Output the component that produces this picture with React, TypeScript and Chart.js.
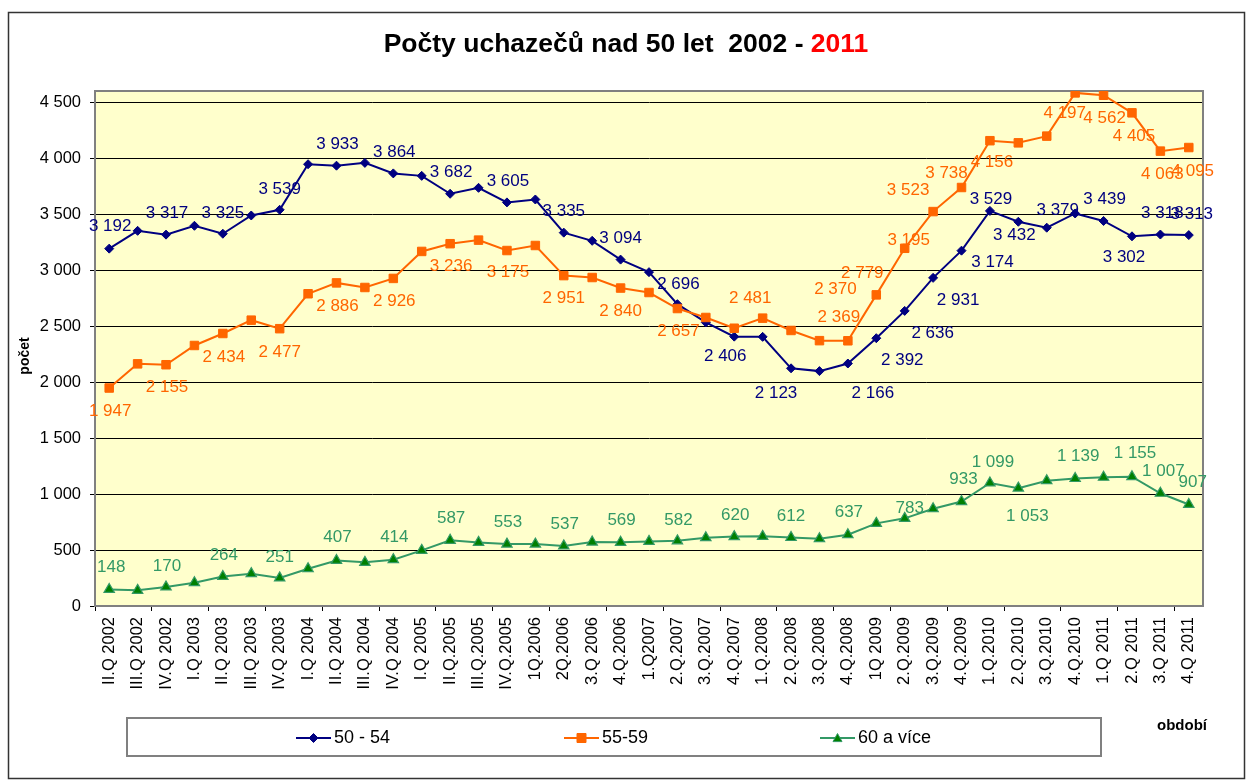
import React, { useEffect, useRef } from 'react';
import { Chart, registerables } from 'chart.js';

Chart.register(...registerables);

const CATEGORIES = [
  'II.Q 2002', 'III.Q 2002', 'IV.Q 2002', 'I.Q 2003', 'II.Q 2003', 'III.Q 2003', 'IV.Q 2003',
  'I.Q 2004', 'II.Q 2004', 'III.Q 2004', 'IV.Q 2004', 'I.Q 2005', 'II.Q.2005', 'III.Q.2005',
  'IV.Q.2005', '1Q.2006', '2Q.2006', '3.Q 2006', '4.Q.2006', '1.Q2007', '2.Q.2007', '3.Q.2007',
  '4.Q.2007', '1.Q.2008', '2.Q.2008', '3.Q.2008', '4.Q.2008', '1Q 2009', '2.Q.2009', '3.Q.2009',
  '4.Q.2009', '1.Q.2010', '2.Q.2010', '3.Q.2010', '4.Q.2010', '1.Q 2011', '2.Q 2011', '3.Q 2011',
  '4.Q 2011',
];

const SERIES_50_54 = [
  3192, 3351, 3317, 3396, 3325, 3488, 3539, 3946, 3933, 3958, 3864, 3842, 3682, 3735, 3605, 3631,
  3335, 3262, 3094, 2982, 2696, 2533, 2406, 2404, 2123, 2098, 2166, 2392, 2636, 2931, 3174, 3529,
  3432, 3379, 3506, 3439, 3302, 3318, 3313,
];

const SERIES_55_59 = [
  1947, 2163, 2155, 2327, 2434, 2553, 2477, 2789, 2886, 2845, 2926, 3167, 3236, 3268, 3175, 3220,
  2951, 2934, 2840, 2800, 2657, 2577, 2481, 2571, 2461, 2370, 2369, 2779, 3195, 3523, 3738, 4156,
  4137, 4197, 4583, 4562, 4405, 4063, 4095,
];

const SERIES_60_PLUS = [
  148, 140, 170, 208, 264, 289, 251, 333, 407, 390, 414, 497, 587, 568, 553, 553, 537, 571, 569,
  577, 582, 610, 620, 622, 612, 601, 637, 738, 783, 869, 933, 1099, 1053, 1119, 1139, 1150, 1155,
  1007, 907,
];

const SERIES_NAMES = ['50 - 54', '55-59', '60 a více'];
const Y_TICKS = [0, 500, 1000, 1500, 2000, 2500, 3000, 3500, 4000, 4500];
const Y_MAX = 4600;

// label placement (offset of label centre from its point), style only
const LABELS_50_54: Record<number, [number, number]> = {
  0: [1, -22], 2: [1, -21], 4: [0, -20], 6: [0, -20], 8: [1, -21], 10: [1, -21], 12: [1, -21],
  14: [1, -21], 16: [0, -21], 18: [0, -21], 20: [1, -20], 22: [-9, 20], 24: [-15, 25],
  26: [25, 30], 27: [26, 22], 28: [28, 22], 29: [25, 22], 30: [31, 12], 31: [1, -12],
  32: [-4, 14], 33: [11, -17], 35: [1, -22], 36: [-8, 21], 37: [2, -21], 38: [3, -21],
};
const LABELS_55_59: Record<number, [number, number]> = {
  0: [1, 23], 2: [1, 23], 4: [1, 24], 6: [0, 24], 8: [1, 23], 10: [1, 23], 12: [1, 23],
  14: [1, 22], 16: [0, 23], 18: [0, 23], 20: [1, 23], 22: [16, -30], 25: [16, -51],
  26: [-9, -23], 27: [-14, -22], 28: [4, -8], 29: [-25, -21], 30: [-15, -14], 31: [2, 22],
  33: [18, -23], 35: [1, 23], 36: [2, 23], 37: [2, 23], 38: [4, 24],
};
const LABELS_60_PLUS: Record<number, [number, number]> = {
  0: [2, -22], 2: [1, -21], 4: [1, -21], 6: [0, -21], 8: [1, -23], 10: [1, -22], 12: [1, -22],
  14: [1, -22], 16: [1, -22], 18: [1, -22], 20: [1, -21], 22: [1, -21], 24: [0, -21],
  26: [1, -22], 28: [5, -10], 30: [2, -22], 31: [3, -21], 32: [9, 28], 34: [3, -22],
  36: [3, -23], 37: [3, -22], 38: [4, -22],
};

const COLOR_BLUE = '#000080';
const COLOR_ORANGE = '#FF6600';
const COLOR_GREEN = '#339966';
const COLOR_GREEN_FILL = '#008000';
const FONT = '"Liberation Sans", Arial, Helvetica, sans-serif';

const fmt = (v: number) => String(Math.round(v)).replace(/\B(?=(\d{3})+(?!\d))/g, ' ');

function drawMarker(ctx: CanvasRenderingContext2D, style: string, x: number, y: number, r: number, fill: string, stroke: string) {
  ctx.save();
  ctx.fillStyle = fill;
  ctx.strokeStyle = stroke;
  ctx.lineWidth = 1;
  ctx.beginPath();
  if (style === 'diamond') {
    ctx.moveTo(x, y - r);
    ctx.lineTo(x + r, y);
    ctx.lineTo(x, y + r);
    ctx.lineTo(x - r, y);
  } else if (style === 'square') {
    ctx.rect(x - r, y - r, 2 * r, 2 * r);
  } else {
    ctx.moveTo(x, y - r);
    ctx.lineTo(x + r, y + r * 0.8);
    ctx.lineTo(x - r, y + r * 0.8);
  }
  ctx.closePath();
  ctx.fill();
  ctx.stroke();
  ctx.restore();
}

const decorPlugin = {
  id: 'decor',
  beforeDraw(chart: any) {
    const { ctx, chartArea: a } = chart;
    ctx.save();
    ctx.fillStyle = '#ffffff';
    ctx.fillRect(0, 0, chart.width, chart.height);
    ctx.fillStyle = '#FFFFCC';
    ctx.fillRect(a.left, a.top, a.right - a.left, a.bottom - a.top);
    ctx.restore();
  },
  beforeDatasetsDraw(chart: any) {
    const { ctx, chartArea: a } = chart;
    ctx.save();
    ctx.strokeStyle = '#808080';
    ctx.lineWidth = 2;
    ctx.strokeRect(a.left, a.top, a.right - a.left, a.bottom - a.top);
    ctx.restore();
  },
  afterDatasetsDraw(chart: any) {
    const ctx = chart.ctx as CanvasRenderingContext2D;
    const sets: [number[], Record<number, [number, number]>, string][] = [
      [SERIES_50_54, LABELS_50_54, COLOR_BLUE],
      [SERIES_55_59, LABELS_55_59, COLOR_ORANGE],
      [SERIES_60_PLUS, LABELS_60_PLUS, COLOR_GREEN],
    ];
    ctx.save();
    ctx.font = `17px ${FONT}`;
    ctx.textAlign = 'center';
    ctx.textBaseline = 'middle';
    sets.forEach(([vals, offs, col], di) => {
      const meta = chart.getDatasetMeta(di);
      ctx.fillStyle = col;
      Object.keys(offs).forEach((k) => {
        const i = Number(k);
        const el = meta.data[i];
        if (!el) return;
        const [dx, dy] = offs[i];
        ctx.fillText(fmt(vals[i]), el.x + dx, el.y + dy);
      });
    });
    ctx.restore();
  },
  afterDraw(chart: any) {
    const ctx = chart.ctx as CanvasRenderingContext2D;
    ctx.save();
    // outer border
    ctx.strokeStyle = '#333333';
    ctx.lineWidth = 1.5;
    ctx.strokeRect(8.5, 12.5, 1236, 766);

    // title
    ctx.font = `bold 26.5px ${FONT}`;
    ctx.textBaseline = 'alphabetic';
    ctx.textAlign = 'left';
    const t1 = 'Počty uchazečů nad 50 let  2002 - ';
    const t2 = '2011';
    const w1 = ctx.measureText(t1).width;
    const w2 = ctx.measureText(t2).width;
    const x0 = 626 - (w1 + w2) / 2;
    ctx.fillStyle = '#000000';
    ctx.fillText(t1, x0, 52);
    ctx.fillStyle = '#FF0000';
    ctx.fillText(t2, x0 + w1, 52);

    // y axis title
    ctx.save();
    ctx.translate(25, 356);
    ctx.rotate(-Math.PI / 2);
    ctx.fillStyle = '#000000';
    ctx.font = `bold 14px ${FONT}`;
    ctx.textAlign = 'center';
    ctx.textBaseline = 'middle';
    ctx.fillText('počet', 0, 0);
    ctx.restore();

    // x axis title
    ctx.fillStyle = '#000000';
    ctx.font = `bold 15px ${FONT}`;
    ctx.textAlign = 'center';
    ctx.textBaseline = 'middle';
    ctx.fillText('období', 1182, 726);

    // legend
    ctx.strokeStyle = '#808080';
    ctx.lineWidth = 2;
    ctx.strokeRect(127, 718, 974, 38);
    const items: [string, string, string, string, number][] = [
      [SERIES_NAMES[0], COLOR_BLUE, COLOR_BLUE, 'diamond', 296],
      [SERIES_NAMES[1], COLOR_ORANGE, COLOR_ORANGE, 'square', 564],
      [SERIES_NAMES[2], COLOR_GREEN, COLOR_GREEN_FILL, 'triangle', 820],
    ];
    const ly = 738;
    items.forEach(([name, line, fill, style, lx]) => {
      ctx.strokeStyle = line;
      ctx.lineWidth = 2;
      ctx.beginPath();
      ctx.moveTo(lx, ly);
      ctx.lineTo(lx + 35, ly);
      ctx.stroke();
      drawMarker(ctx, style, lx + 17.5, ly, style === 'square' ? 4.5 : 4.5, fill, style === 'triangle' ? COLOR_GREEN : fill);
      ctx.fillStyle = '#000000';
      ctx.font = `18px ${FONT}`;
      ctx.textAlign = 'left';
      ctx.textBaseline = 'middle';
      ctx.fillText(name, lx + 38, ly);
    });
    ctx.restore();
  },
};

export default function App() {
  const ref = useRef<HTMLCanvasElement>(null);

  useEffect(() => {
    if (!ref.current) return;
    const chart = new Chart(ref.current, {
      type: 'line',
      data: {
        labels: CATEGORIES,
        datasets: [
          {
            label: SERIES_NAMES[0],
            data: SERIES_50_54,
            borderColor: COLOR_BLUE,
            backgroundColor: COLOR_BLUE,
            borderWidth: 2,
            pointStyle: 'rectRot',
            pointRadius: 4.5,
            pointBorderWidth: 1,
            pointBackgroundColor: COLOR_BLUE,
            pointBorderColor: COLOR_BLUE,
            tension: 0,
            order: 3,
          },
          {
            label: SERIES_NAMES[1],
            data: SERIES_55_59,
            borderColor: COLOR_ORANGE,
            backgroundColor: COLOR_ORANGE,
            borderWidth: 2,
            pointStyle: 'rect',
            pointRadius: 6,
            pointBorderWidth: 1,
            pointBackgroundColor: COLOR_ORANGE,
            pointBorderColor: COLOR_ORANGE,
            tension: 0,
            order: 2,
          },
          {
            label: SERIES_NAMES[2],
            data: SERIES_60_PLUS,
            borderColor: COLOR_GREEN,
            backgroundColor: COLOR_GREEN_FILL,
            borderWidth: 2,
            pointStyle: 'triangle',
            pointRadius: 6,
            pointBorderWidth: 1.2,
            pointBackgroundColor: COLOR_GREEN_FILL,
            pointBorderColor: COLOR_GREEN,
            tension: 0,
            order: 1,
          },
        ],
      },
      options: {
        responsive: false,
        animation: false,
        events: [],
        layout: { padding: { left: 0, right: 46, top: 91, bottom: 0 } },
        plugins: {
          legend: { display: false },
          title: { display: false },
          tooltip: { enabled: false },
        },
        scales: {
          x: {
            type: 'category',
            offset: true,
            grid: {
              offset: true,
              drawOnChartArea: false,
              drawTicks: true,
              tickLength: 5,
              lineWidth: 1,
              color: (c: any) => (c.index % 2 === 0 ? '#000000' : 'rgba(0,0,0,0)'),
            },
            border: { display: true, color: '#404040', width: 1.5 },
            ticks: {
              autoSkip: false,
              minRotation: 90,
              maxRotation: 90,
              padding: 6,
              color: '#000000',
              font: { family: FONT, size: 16.5 },
            },
            afterFit: (s: any) => {
              s.height = 174;
            },
          },
          y: {
            min: 0,
            max: Y_MAX,
            afterBuildTicks: (s: any) => {
              s.ticks = Y_TICKS.map((v) => ({ value: v }));
            },
            grid: { color: '#000000', lineWidth: 1, tickLength: 5, drawTicks: true },
            border: { display: true, color: '#808080', width: 2 },
            ticks: {
              padding: 9,
              color: '#000000',
              font: { family: FONT, size: 16.5 },
              callback: (v: any) => fmt(Number(v)),
            },
            afterFit: (s: any) => {
              s.width = 95;
            },
          },
        },
      },
      plugins: [decorPlugin],
    } as any);
    return () => chart.destroy();
  }, []);

  return (
    <div style={{ position: 'absolute', left: 0, top: 0, width: 1249, height: 780 }}>
      <canvas ref={ref} width={1249} height={780} style={{ display: 'block', width: 1249, height: 780 }} />
    </div>
  );
}
